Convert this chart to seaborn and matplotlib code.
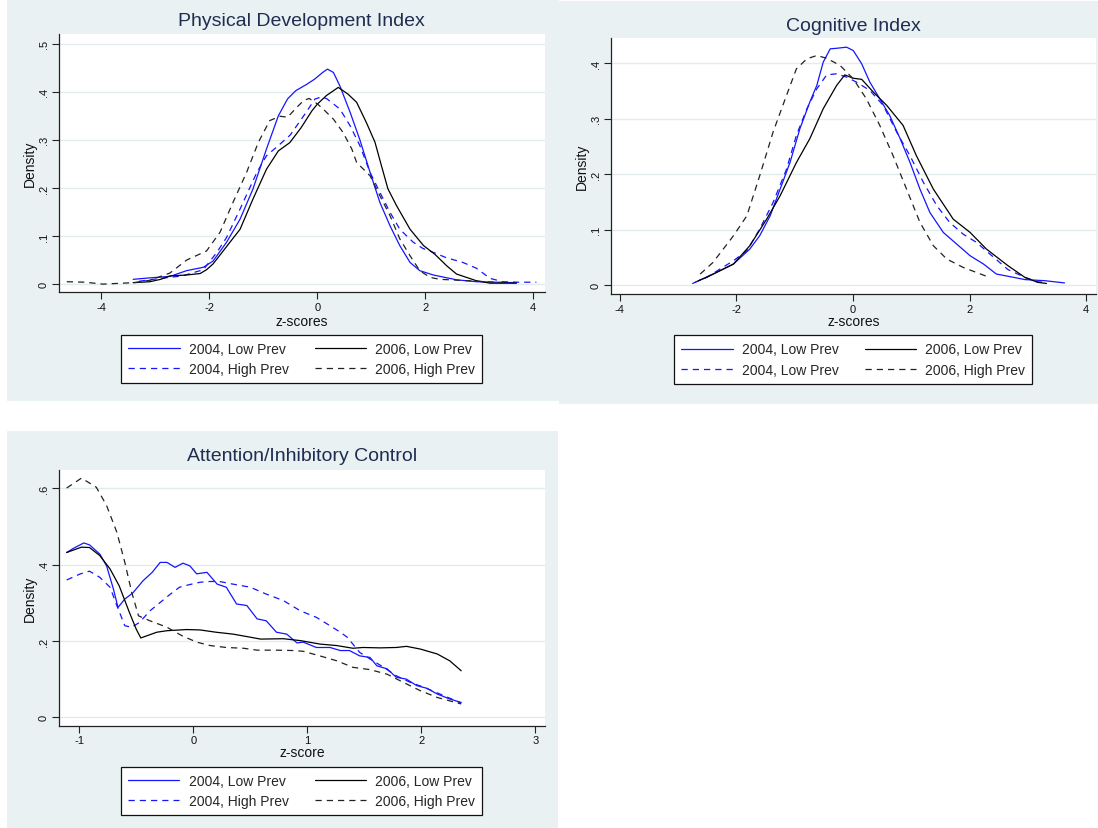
import numpy as np
import pandas as pd
import matplotlib
matplotlib.use("Agg")
import matplotlib.pyplot as plt
from matplotlib.patches import Rectangle
import seaborn as sns

sns.set_style("ticks")
plt.rcParams['font.family'] = ['Liberation Sans', 'DejaVu Sans']

# ---------------- data ----------------
legend_labels_std = ["2004, Low Prev", "2004, High Prev", "2006, Low Prev", "2006, High Prev"]
legend_labels_cog = ["2004, Low Prev", "2004, Low Prev", "2006, Low Prev", "2006, High Prev"]

# Panel 1: Physical Development Index
p1_x_04low = [-3.41, -3.1, -2.73, -2.42, -2.11, -1.93, -1.68, -1.43, -1.19, -0.94, -0.72, -0.55, -0.40, -0.20, -0.05,
              0.10, 0.19, 0.30, 0.42, 0.61, 0.79, 0.98, 1.16, 1.35, 1.53, 1.72, 1.90, 2.15, 2.58, 2.95, 3.30, 3.69]
p1_y_04low = [0.010, 0.013, 0.016, 0.028, 0.035, 0.048, 0.087, 0.135, 0.198, 0.281, 0.350, 0.385, 0.402, 0.415, 0.426,
              0.440, 0.447, 0.440, 0.412, 0.357, 0.300, 0.232, 0.170, 0.121, 0.080, 0.045, 0.028, 0.019, 0.009, 0.005, 0.004, 0.003]
p1_x_04high = [-3.3, -2.9, -2.5, -2.11, -1.86, -1.68, -1.43, -1.12, -0.94, -0.72, -0.5, -0.25, -0.04, 0.05, 0.17, 0.42,
               0.61, 0.79, 0.98, 1.16, 1.35, 1.53, 1.78, 1.96, 2.15, 2.39, 2.70, 2.95, 3.2, 3.44, 3.7, 4.06]
p1_y_04high = [0.006, 0.012, 0.017, 0.030, 0.066, 0.097, 0.156, 0.232, 0.267, 0.288, 0.31, 0.35, 0.385, 0.388, 0.386, 0.364,
               0.329, 0.288, 0.232, 0.191, 0.149, 0.114, 0.087, 0.074, 0.066, 0.055, 0.045, 0.033, 0.012, 0.005, 0.004, 0.004]
p1_x_06low = [-3.41, -3.1, -2.9, -2.73, -2.42, -2.17, -2.05, -1.93, -1.68, -1.43, -1.19, -0.94, -0.72, -0.51, -0.30, -0.10,
              0.0, 0.17, 0.39, 0.57, 0.73, 0.91, 1.07, 1.19, 1.31, 1.47, 1.72, 1.97, 2.18, 2.40, 2.58, 2.95, 3.2, 3.69]
p1_y_06low = [0.003, 0.005, 0.010, 0.017, 0.019, 0.022, 0.030, 0.042, 0.078, 0.114, 0.177, 0.239, 0.277, 0.294, 0.325, 0.36,
              0.374, 0.392, 0.409, 0.395, 0.378, 0.336, 0.295, 0.246, 0.198, 0.163, 0.114, 0.080, 0.062, 0.038, 0.021, 0.007, 0.002, 0.002]
p1_x_06high = [-4.64, -4.3, -3.97, -3.6, -3.4, -3.1, -2.73, -2.42, -2.05, -1.80, -1.56, -1.31, -1.09, -0.88, -0.69, -0.55,
               -0.40, -0.25, -0.15, 0.0, 0.11, 0.30, 0.48, 0.64, 0.73, 0.98, 1.16, 1.35, 1.53, 1.72, 1.90, 2.09, 2.27, 2.8, 3.44]
p1_y_06high = [0.005, 0.004, 0.0, 0.002, 0.003, 0.008, 0.023, 0.05, 0.069, 0.108, 0.17, 0.232, 0.295, 0.34, 0.349, 0.347,
               0.365, 0.382, 0.386, 0.375, 0.364, 0.343, 0.315, 0.281, 0.253, 0.225, 0.184, 0.142, 0.094, 0.059, 0.028, 0.014, 0.010, 0.007, 0.003]

# Panel 2: Cognitive Index
p2_x_04low = [-2.75, -2.40, -2.05, -1.77, -1.60, -1.42, -1.25, -1.08, -0.91, -0.74, -0.62, -0.51, -0.39, -0.28, -0.11,
              0.005, 0.15, 0.29, 0.46, 0.63, 0.81, 0.98, 1.15, 1.32, 1.55, 1.78, 2.01, 2.24, 2.46, 2.66, 2.95, 3.29, 3.63]
p2_y_04low = [0.003, 0.020, 0.038, 0.065, 0.089, 0.125, 0.173, 0.221, 0.282, 0.330, 0.360, 0.402, 0.426, 0.427, 0.429,
              0.423, 0.399, 0.366, 0.336, 0.306, 0.264, 0.221, 0.173, 0.131, 0.095, 0.074, 0.053, 0.038, 0.020, 0.016, 0.010, 0.008, 0.004]
p2_x_04dash = [-2.71, -2.51, -2.05, -1.82, -1.60, -1.37, -1.14, -0.97, -0.79, -0.62, -0.45, -0.28, -0.11, 0.06, 0.29,
               0.52, 0.75, 0.98, 1.21, 1.44, 1.66, 1.89, 2.12, 2.35, 2.66, 2.95, 3.17, 3.29]
p2_y_04dash = [0.005, 0.014, 0.044, 0.062, 0.101, 0.149, 0.209, 0.270, 0.318, 0.354, 0.379, 0.381, 0.375, 0.366, 0.351,
               0.324, 0.276, 0.233, 0.185, 0.143, 0.113, 0.092, 0.077, 0.056, 0.028, 0.014, 0.006, 0.005]
p2_x_06low = [-2.65, -2.51, -2.05, -1.77, -1.48, -1.25, -0.97, -0.74, -0.51, -0.28, -0.14, 0.005, 0.15, 0.35, 0.58,
              0.86, 1.09, 1.38, 1.72, 2.01, 2.29, 2.66, 2.95, 3.17, 3.32]
p2_y_06low = [0.008, 0.014, 0.038, 0.071, 0.119, 0.161, 0.221, 0.264, 0.318, 0.360, 0.379, 0.373, 0.371, 0.348, 0.324,
              0.288, 0.233, 0.173, 0.119, 0.095, 0.065, 0.035, 0.014, 0.005, 0.003]
p2_x_06high = [-2.62, -2.40, -2.05, -1.82, -1.60, -1.37, -1.14, -0.97, -0.79, -0.62, -0.45, -0.22, 0.005, 0.23, 0.46,
               0.69, 0.92, 1.15, 1.38, 1.61, 1.89, 2.29]
p2_y_06high = [0.020, 0.041, 0.089, 0.125, 0.197, 0.276, 0.342, 0.390, 0.408, 0.414, 0.409, 0.396, 0.372, 0.336, 0.288,
               0.233, 0.173, 0.113, 0.071, 0.047, 0.032, 0.016]

# Panel 3: Attention/Inhibitory Control
p3_x_04low = [-1.11, -1.05, -0.96, -0.91, -0.82, -0.76, -0.70, -0.66, -0.60, -0.53, -0.44, -0.36, -0.29, -0.23, -0.16,
              -0.09, -0.03, 0.03, 0.12, 0.21, 0.29, 0.38, 0.47, 0.56, 0.64, 0.73, 0.82, 0.91, 0.965, 1.08, 1.2, 1.29,
              1.37, 1.46, 1.55, 1.61, 1.70, 1.78, 1.87, 1.96, 2.05, 2.14, 2.25, 2.35]
p3_y_04low = [0.432, 0.443, 0.457, 0.452, 0.428, 0.397, 0.336, 0.288, 0.31, 0.326, 0.358, 0.38, 0.406, 0.406, 0.393,
              0.404, 0.397, 0.376, 0.38, 0.349, 0.341, 0.297, 0.293, 0.258, 0.253, 0.223, 0.218, 0.195, 0.197, 0.183, 0.183,
              0.175, 0.175, 0.161, 0.157, 0.135, 0.127, 0.105, 0.1, 0.083, 0.076, 0.061, 0.048, 0.039]
p3_x_04high = [-1.11, -0.99, -0.91, -0.82, -0.73, -0.67, -0.60, -0.54, -0.47, -0.38, -0.29, -0.20, -0.12, -0.03, 0.06,
               0.15, 0.23, 0.35, 0.50, 0.64, 0.79, 0.94, 1.08, 1.2, 1.29, 1.35, 1.46, 1.55, 1.67, 1.78, 1.90, 2.02, 2.14,
               2.25, 2.35]
p3_y_04high = [0.36, 0.376, 0.383, 0.367, 0.341, 0.293, 0.24, 0.236, 0.249, 0.279, 0.301, 0.323, 0.341, 0.348, 0.354,
               0.356, 0.356, 0.349, 0.341, 0.323, 0.306, 0.279, 0.262, 0.24, 0.223, 0.21, 0.17, 0.153, 0.131, 0.109, 0.092,
               0.079, 0.064, 0.05, 0.037]
p3_x_06low = [-1.11, -0.98, -0.91, -0.82, -0.73, -0.65, -0.56, -0.50, -0.46, -0.32, -0.23, -0.06, 0.06, 0.2, 0.35, 0.50,
              0.59, 0.79, 0.94, 1.11, 1.26, 1.40, 1.49, 1.64, 1.78, 1.87, 1.99, 2.14, 2.25, 2.35]
p3_y_06low = [0.432, 0.446, 0.445, 0.424, 0.389, 0.345, 0.275, 0.231, 0.208, 0.223, 0.227, 0.23, 0.229, 0.223, 0.218, 0.21,
              0.205, 0.206, 0.201, 0.192, 0.188, 0.181, 0.183, 0.182, 0.183, 0.186, 0.179, 0.166, 0.148, 0.122]
p3_x_06high = [-1.11, -0.98, -0.85, -0.76, -0.67, -0.60, -0.54, -0.48, -0.38, -0.23, -0.10, 0.03, 0.15, 0.29, 0.44, 0.56,
               0.73, 0.88, 0.965, 1.11, 1.26, 1.40, 1.55, 1.70, 1.84, 1.99, 2.14, 2.35]
p3_y_06high = [0.601, 0.627, 0.603, 0.555, 0.485, 0.406, 0.328, 0.266, 0.253, 0.236, 0.214, 0.197, 0.188, 0.183, 0.181,
               0.176, 0.176, 0.175, 0.173, 0.161, 0.148, 0.131, 0.125, 0.113, 0.092, 0.070, 0.052, 0.035]

p1_xticks = [-4, -2, 0, 2, 4]
p1_xticklabels = ["-4", "-2", "0", "2", "4"]
p1_yticks = [0, 0.1, 0.2, 0.3, 0.4, 0.5]
p1_yticklabels = ["0", ".1", ".2", ".3", ".4", ".5"]
p2_xticks = [-4, -2, 0, 2, 4]
p2_xticklabels = ["-4", "-2", "0", "2", "4"]
p2_yticks = [0, 0.1, 0.2, 0.3, 0.4]
p2_yticklabels = ["0", ".1", ".2", ".3", ".4"]
p3_xticks = [-1, 0, 1, 2, 3]
p3_xticklabels = ["-1", "0", "1", "2", "3"]
p3_yticks = [0, 0.2, 0.4, 0.6]
p3_yticklabels = ["0", ".2", ".4", ".6"]

titles = ["Physical Development Index", "Cognitive Index", "Attention/Inhibitory Control"]
xlabels = ["z-scores", "z-scores", "z-score"]

# ---------------- figure ----------------
W, H = 1098, 829
fig = plt.figure(figsize=(W / 100, H / 100), dpi=100)
fig.patch.set_facecolor("white")

BG = "#E9F1F3"
GRID = "#E2EBEE"
TITLE_C = "#1F2D50"
BLUE = "#1515FF"
BLACK = "#000000"
DASH = (0, (5, 4))


def fx(px):
    return px / W


def fy(py):
    return 1 - py / H


# panel background rectangles (pixel boxes: x0, y0, x1, y1)
for (x0, y0, x1, y1) in [(7, 0, 559, 402), (559, 2, 1098, 405), (7, 432, 558, 829)]:
    fig.patches.append(Rectangle((fx(x0), fy(y1)), fx(x1 - x0), (y1 - y0) / H,
                                 transform=fig.transFigure, facecolor=BG, edgecolor="none", zorder=-5))

# axes boxes in pixels (left, top, right, bottom)
boxes = [(58.7, 35.0, 545.0, 293.3), (610.7, 39.3, 1096.0, 295.0), (58.7, 470.7, 545.0, 726.7)]
lims = [((-4.79, 4.22), (-0.017, 0.52)), ((-4.156, 4.17), (-0.016, 0.445)), ((-1.18, 3.085), (-0.022, 0.649))]
title_y = [21.7, 26.7, 456.7]
xlabel_y = [322, 322, 753]
legend_center = [(301.8, 359.7), (853.3, 360.5), (301.7, 792.2)]

series = [
    [(p1_x_04low, p1_y_04low, BLUE, "-"), (p1_x_04high, p1_y_04high, BLUE, DASH),
     (p1_x_06low, p1_y_06low, BLACK, "-"), (p1_x_06high, p1_y_06high, "#222222", DASH)],
    [(p2_x_04low, p2_y_04low, BLUE, "-"), (p2_x_04dash, p2_y_04dash, BLUE, DASH),
     (p2_x_06low, p2_y_06low, BLACK, "-"), (p2_x_06high, p2_y_06high, "#222222", DASH)],
    [(p3_x_04low, p3_y_04low, BLUE, "-"), (p3_x_04high, p3_y_04high, BLUE, DASH),
     (p3_x_06low, p3_y_06low, BLACK, "-"), (p3_x_06high, p3_y_06high, "#222222", DASH)],
]
labels_all = [legend_labels_std, legend_labels_cog, legend_labels_std]
ticks_all = [(p1_xticks, p1_xticklabels, p1_yticks, p1_yticklabels),
             (p2_xticks, p2_xticklabels, p2_yticks, p2_yticklabels),
             (p3_xticks, p3_xticklabels, p3_yticks, p3_yticklabels)]

for i in range(3):
    l, t, r, b = boxes[i]
    ax = fig.add_axes([fx(l), fy(b), fx(r - l), (b - t) / H])
    ax.set_facecolor("white")
    for (xs, ys, col, ls), lab in zip(series[i], labels_all[i]):
        df = pd.DataFrame({"x": xs, "y": ys})
        sns.lineplot(data=df, x="x", y="y", ax=ax, color=col, linestyle=ls, linewidth=0.9,
                     sort=False, estimator=None, label=lab)
    ax.set_xlim(*lims[i][0])
    ax.set_ylim(*lims[i][1])
    xt, xtl, yt, ytl = ticks_all[i]
    ax.set_xticks(xt)
    ax.set_xticklabels(xtl)
    ax.set_yticks(yt)
    ax.set_yticklabels(ytl, rotation=90, va="center")
    ax.yaxis.grid(True, color=GRID, linewidth=1.0)
    ax.xaxis.grid(False)
    ax.set_axisbelow(True)
    for s in ["top", "right"]:
        ax.spines[s].set_visible(False)
    for s in ["left", "bottom"]:
        ax.spines[s].set_color("#222222")
        ax.spines[s].set_linewidth(0.9)
    ax.tick_params(direction="out", length=5, width=0.8, color="#222222", labelsize=8, pad=2,
                   labelcolor="#111111")
    ax.set_xlabel(xlabels[i], fontsize=10, color="#111111")
    ax.set_ylabel("Density", fontsize=10, color="#111111")
    axh = b - t
    axw = r - l
    ax.xaxis.set_label_coords(0.5, -(xlabel_y[i] - b) / axh)
    ax.xaxis.label.set_verticalalignment("center")
    ax.yaxis.set_label_coords(-28.8 / axw, 0.5)
    ax.yaxis.label.set_verticalalignment("center")
    fig.text(fx((l + r) / 2), fy(title_y[i]), titles[i], ha="center", va="center",
             fontsize=14, color=TITLE_C)
    h, lb = ax.get_legend_handles_labels()
    if ax.get_legend() is not None:
        ax.get_legend().remove()
    cx, cy = legend_center[i]
    leg = fig.legend(h, lb, ncol=2, loc="center", bbox_to_anchor=(fx(cx), fy(cy)),
                     bbox_transform=fig.transFigure, frameon=True, fancybox=False, shadow=False,
                     fontsize=10, handlelength=3.7, handletextpad=0.65, columnspacing=1.9,
                     labelspacing=0.45, borderpad=0.5, borderaxespad=0)
    leg.get_frame().set_edgecolor("#111111")
    leg.get_frame().set_linewidth(0.9)
    leg.get_frame().set_facecolor("white")
    leg.get_frame().set_alpha(1)

fig.savefig("out.png", dpi=100, facecolor="white")
